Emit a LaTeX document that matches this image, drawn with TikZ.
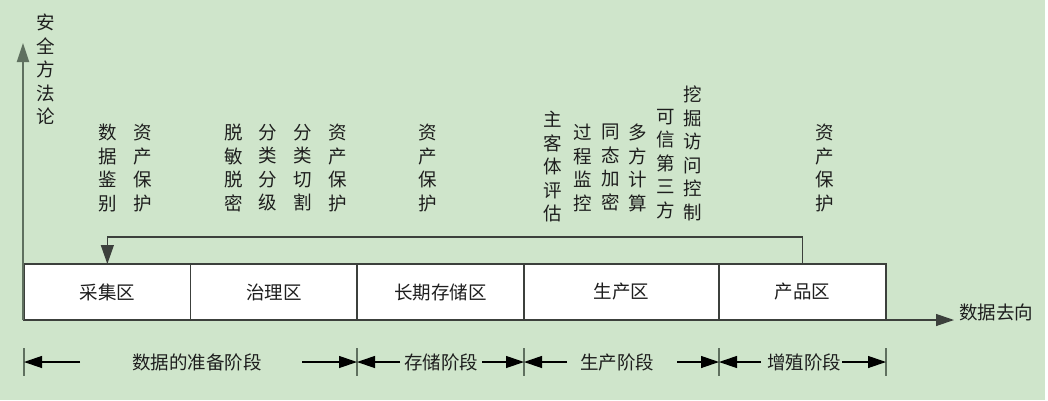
\documentclass[tikz,border=0pt]{standalone}
\usepackage{fontspec}
\setmainfont{Noto Sans CJK SC}
\usetikzlibrary{arrows.meta}
\definecolor{bgc}{RGB}{207,229,203}
\definecolor{axisc}{RGB}{95,112,95}
\definecolor{boxc}{RGB}{60,64,60}
\definecolor{txtc}{RGB}{30,30,30}
\begin{document}
\begin{tikzpicture}[x=1pt,y=-1pt,
  zone/.style={draw=boxc,line width=1.3pt,fill=white,minimum height=56pt,inner sep=0pt,outer sep=0pt,
    font=\fontsize{18.5}{22}\selectfont,text=txtc},
  vtext/.style={align=center,anchor=north,inner sep=0pt,font=\fontsize{18.5}{23.5}\selectfont,text=txtc},
  lab/.style={inner sep=0pt,font=\fontsize{18.5}{22}\selectfont,text=txtc},
  axisline/.style={draw=axisc,line width=1.8pt},
  tip/.style={-{Triangle[length=18pt,width=12pt]},draw=black,line width=1.2pt},
  tick/.style={draw=axisc,line width=1.5pt}]
\useasboundingbox (0,0) rectangle (1048,400);
\fill[bgc] (0,0) rectangle (1048,400);
\fill[white] (1045,0) rectangle (1048,400);
% boxes
\node[zone,minimum width=166.7pt] (cj) at (107.35,292) {采集区};
\node[zone,minimum width=166.3pt] (zl) at (273.85,292) {治理区};
\node[zone,minimum width=167pt] (cc) at (440.5,292) {长期存储区};
\node[zone,minimum width=195pt] (sc) at (621.5,292) {生产区};
\node[zone,minimum width=167pt] (cp) at (802.5,292) {产品区};
% vertical axis
\coordinate (o) at (23,320);
\coordinate (ytop) at (23,43);
\draw[axisline,-{Triangle[length=19pt,width=12pt]}] (o) -- (ytop);
\node[vtext] (yl) at (46,14) {安\\全\\方\\法\\论};
% horizontal axis
\coordinate (xend) at (954,320);
\draw[tip,draw=boxc] (cp.south east) -- (xend);
\node[lab,anchor=west] (xl) at (959,312) {数据去向};
% feedback arrow
\draw[tip,-{Triangle[length=19pt,width=13pt]},draw=boxc] (cp.north) -- ++(0,-27) -| (cj.north);
% method columns
\node[vtext] (m1) at (108,124) {数\\据\\鉴\\别};
\node[vtext] (m2) at (143,124) {资\\产\\保\\护};
\node[vtext] (m3) at (234,124) {脱\\敏\\脱\\密};
\node[vtext] (m4) at (268,124) {分\\类\\分\\级};
\node[vtext] (m5) at (303,124) {分\\类\\切\\割};
\node[vtext] (m6) at (338,124) {资\\产\\保\\护};
\node[vtext] (m7) at (428,124) {资\\产\\保\\护};
\node[vtext] (m8) at (553,111) {主\\客\\体\\评\\估};
\node[vtext] (m9) at (583,124) {过\\程\\监\\控};
\node[vtext] (m10) at (611,124) {同\\态\\加\\密};
\node[vtext] (m11) at (638,124) {多\\方\\计\\算};
\node[vtext] (m12) at (666,109) {可\\信\\第\\三\\方};
\node[vtext] (m13) at (693,86) {挖\\掘\\访\\问\\控\\制};
\node[vtext] (m14) at (825,124) {资\\产\\保\\护};
% stage ticks
\foreach \x/\n in {24/t0,357/t1,524/t2,719/t3,886/t4}{
  \coordinate (\n) at (\x,362);
  \draw[tick] (\x,348) -- (\x,376);
}
% stages
\node[lab] (s1) at (197,362) {数据的准备阶段};
\node[lab] (s2) at (441,362) {存储阶段};
\node[lab] (s3) at (617,362) {生产阶段};
\node[lab] (s4) at (804,362) {增殖阶段};
\coordinate (a1) at (80,362); \coordinate (b1) at (302,362);
\coordinate (a2) at (400,362); \coordinate (b2) at (482,362);
\coordinate (a3) at (567,362); \coordinate (b3) at (677,362);
\coordinate (a4) at (761,362); \coordinate (b4) at (842,362);
\draw[tip] (a1) -- (t0); \draw[tip] (b1) -- (t1);
\draw[tip] (a2) -- (t1); \draw[tip] (b2) -- (t2);
\draw[tip] (a3) -- (t2); \draw[tip] (b3) -- (t3);
\draw[tip] (a4) -- (t3); \draw[tip] (b4) -- (t4);
\end{tikzpicture}
\end{document}
